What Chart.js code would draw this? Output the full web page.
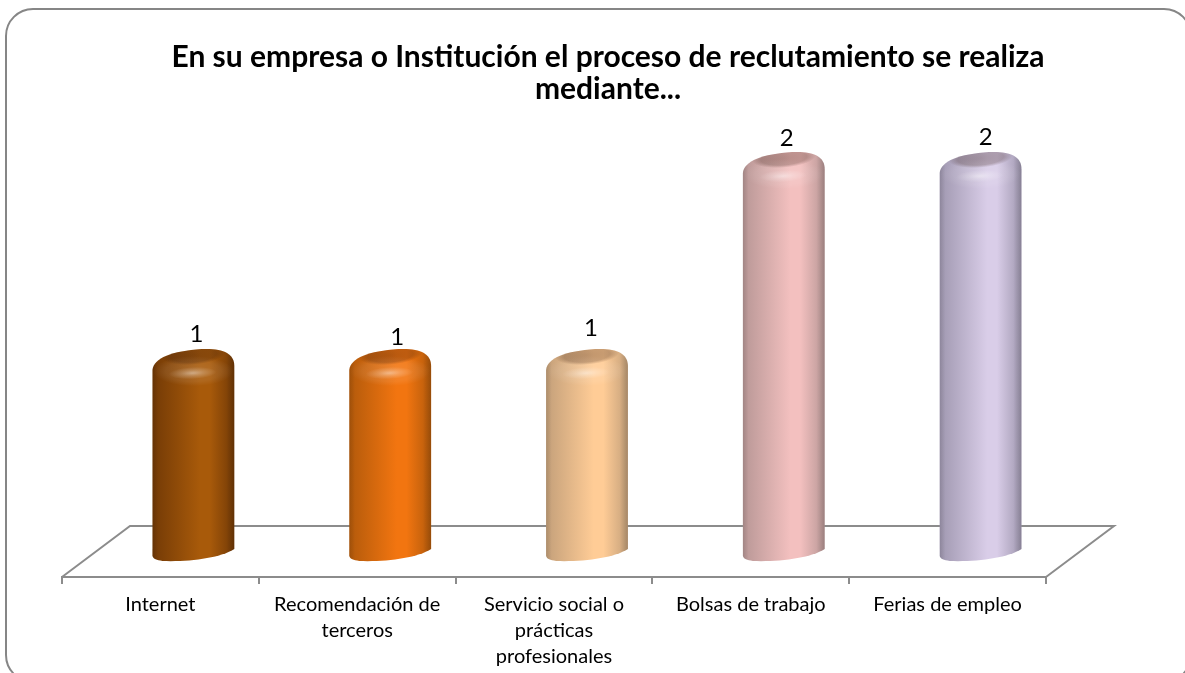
<!DOCTYPE html>
<html><head><meta charset="utf-8">
<style>
html,body{margin:0;padding:0;background:#fff;width:1185px;height:673px;overflow:hidden}
#frame{position:absolute;left:5px;top:8px;width:1183px;height:671px;border:2px solid #868686;border-radius:28px}
#wrap{position:absolute;left:0;top:0;width:1185px;height:673px}
</style>
<script src="https://cdn.jsdelivr.net/npm/chart.js@4"></script>
</head><body>
<div id="frame"></div>
<div id="wrap"><canvas id="c" width="1185" height="673"></canvas></div>
<script>
const titleLines = ['En su empresa o Institución el proceso de reclutamiento se realiza', 'mediante...'];
const categories = [['Internet'], ['Recomendación de', 'terceros'], ['Servicio social o', 'prácticas', 'profesionales'], ['Bolsas de trabajo'], ['Ferias de empleo']];
const values = [1, 1, 1, 2, 2];
const centerColors = ['#A85A0A', '#F27510', '#FFCC96', '#F3C0BF', '#D9CDE8'];
const edgeColors = ['#733A06', '#B35A0B', '#C4A07A', '#B89796', '#A098B0'];

const DEPTH_X = 68, DEPTH_Y = 51;
const BAR_SHIFT = 33;
const LINE = '#8C8C8C';
const labelNudge = [[3,0],[7,3],[4,-6],[3,1],[5,0]];

const floorPlugin = {
  id: 'floor',
  afterLayout(chart) {
    chart.titleBlock.left += 54;
    chart.titleBlock.right += 54;
  },
  beforeDatasetsDraw(chart) {
    const {ctx, chartArea: a} = chart;
    ctx.save();
    ctx.strokeStyle = LINE; ctx.lineWidth = 2; ctx.lineJoin = 'miter';
    ctx.beginPath();
    ctx.moveTo(a.left, a.bottom);
    ctx.lineTo(a.left + DEPTH_X, a.bottom - DEPTH_Y);
    ctx.lineTo(a.right + DEPTH_X, a.bottom - DEPTH_Y);
    ctx.lineTo(a.right, a.bottom);
    ctx.stroke();
    ctx.restore();
  }
};

const cylinderPlugin = {
  id: 'cylinder',
  beforeDatasetDraw(chart, args) {
    const {ctx} = chart;
    const meta = args.meta;
    meta.data.forEach((el, i) => {
      const w = el.width;
      const x0 = el.x + BAR_SHIFT - w / 2, x1 = x0 + w;
      const t = el.y, b = el.base + 15;
      const path = new Path2D();
      path.moveTo(x0, b - 5);
      path.lineTo(x0, t + 21);
      path.bezierCurveTo(x0 + 1, t + 9, x0 + 20, t + 2, x0 + w * .6, t);
      path.bezierCurveTo(x1 - 12, t - 1, x1, t + 4, x1, t + 17);
      path.lineTo(x1, b - 12);
      path.bezierCurveTo(x1 - 14, b - 3, x0 + w * .45, b + 1, x0 + 10, b);
      path.bezierCurveTo(x0 + 4, b - 1, x0 + 1, b - 2, x0, b - 5);
      path.closePath();

      const g = ctx.createLinearGradient(x0, 0, x1, 0);
      g.addColorStop(0, edgeColors[i]);
      g.addColorStop(.58, centerColors[i]);
      g.addColorStop(.7, centerColors[i]);
      g.addColorStop(1, edgeColors[i]);
      ctx.save();
      ctx.fillStyle = g;
      ctx.fill(path);
      ctx.clip(path);

      // soft dark edge on both sides
      const e = ctx.createLinearGradient(x0, 0, x1, 0);
      e.addColorStop(0, 'rgba(0,0,0,.12)');
      e.addColorStop(.07, 'rgba(0,0,0,0)');
      e.addColorStop(.9, 'rgba(0,0,0,0)');
      e.addColorStop(1, 'rgba(0,0,0,.16)');
      ctx.fillStyle = e;
      ctx.fillRect(x0, t - 2, w, b - t + 4);

      // lighter shoulder, fading toward the sides
      ctx.save();
      ctx.translate(x0 + w * .5, t + 22);
      ctx.scale(1, 15 / 40);
      const s = ctx.createRadialGradient(0, 0, 0, 0, 0, 40);
      s.addColorStop(0, 'rgba(255,255,255,.14)');
      s.addColorStop(.7, 'rgba(255,255,255,.08)');
      s.addColorStop(1, 'rgba(255,255,255,0)');
      ctx.fillStyle = s;
      ctx.beginPath(); ctx.arc(0, 0, 40, 0, Math.PI * 2); ctx.fill();
      ctx.restore();

      // top face
      ctx.save();
      ctx.translate(x0 + w * .5, t + 6);
      ctx.rotate(-0.08);
      ctx.scale(1, 9 / 30);
      const f = ctx.createRadialGradient(0, 0, 0, 0, 0, 32);
      f.addColorStop(0, 'rgba(50,25,15,.30)');
      f.addColorStop(.72, 'rgba(50,25,15,.26)');
      f.addColorStop(1, 'rgba(50,25,15,0)');
      ctx.fillStyle = f;
      ctx.beginPath(); ctx.arc(0, 0, 32, 0, Math.PI * 2); ctx.fill();
      ctx.restore();

      // specular
      ctx.save();
      ctx.translate(x0 + w * .49, t + 24);
      ctx.rotate(-0.05);
      ctx.scale(1, 6 / 24);
      const h = ctx.createRadialGradient(0, 0, 0, 0, 0, 24);
      h.addColorStop(0, 'rgba(255,255,255,.42)');
      h.addColorStop(.45, 'rgba(255,255,255,.2)');
      h.addColorStop(1, 'rgba(255,255,255,0)');
      ctx.fillStyle = h;
      ctx.beginPath(); ctx.arc(0, 0, 24, 0, Math.PI * 2); ctx.fill();
      ctx.restore();
      ctx.restore();
    });
    return false;
  },
  afterDatasetsDraw(chart) {
    const {ctx} = chart;
    const meta = chart.getDatasetMeta(0);
    ctx.save();
    ctx.fillStyle = '#000';
    ctx.font = '24px Lato';
    ctx.textAlign = 'center';
    ctx.textBaseline = 'middle';
    meta.data.forEach((el, i) => {
      ctx.fillText(String(values[i]), el.x + BAR_SHIFT + labelNudge[i][0], el.y - 15 + labelNudge[i][1]);
    });
    ctx.restore();
  }
};

new Chart(document.getElementById('c'), {
  type: 'bar',
  data: {
    labels: categories,
    datasets: [{ data: values, backgroundColor: centerColors, categoryPercentage: 1, barPercentage: 0.416 }]
  },
  options: {
    responsive: false,
    animation: false,
    layout: { padding: { left: 62, right: 139, top: 41, bottom: 0 } },
    plugins: {
      legend: { display: false },
      tooltip: { enabled: false },
      title: {
        display: true,
        text: titleLines,
        color: '#000',
        font: { family: 'Lato', size: 30, weight: 'bold', lineHeight: '32px' },
        padding: { top: 0, bottom: 0 }
      }
    },
    scales: {
      y: {
        display: false,
        min: -0.157,
        max: 2.239
      },
      x: {
        offset: true,
        border: { display: true, color: LINE, width: 2 },
        grid: { display: true, drawOnChartArea: false, drawTicks: true, tickLength: 7, color: LINE, lineWidth: 2, offset: true },
        ticks: { color: '#000', padding: 8, maxRotation: 0, autoSkip: false, font: { family: 'Lato', size: 20, lineHeight: '26px' } },
        afterFit(scale) { scale.height = 96; }
      }
    }
  },
  plugins: [floorPlugin, cylinderPlugin]
});
</script>
</body></html>
